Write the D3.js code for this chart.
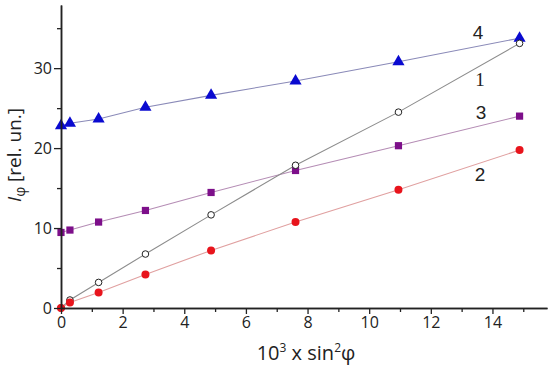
<!DOCTYPE html>
<html>
<head>
<meta charset="utf-8">
<script src="https://cdn.jsdelivr.net/npm/d3@7"></script>
<style>
  body { margin: 0; background: #fff; }
  text { font-family: "Open Sans", "DejaVu Sans", sans-serif; }
</style>
</head>
<body>
<div id="graph"></div>
<script>
// x values (10^3 x sin^2 phi), shared by all curves
const xVals = [0, 0.29, 1.22, 2.74, 4.87, 7.61, 10.95, 14.88];

// curves, numbered as in the figure
const curve1 = [0, 1.0, 3.2, 6.75, 11.65, 17.85, 24.5, 33.1];   // open circles
const curve2 = [0, 0.7, 1.95, 4.2, 7.2, 10.75, 14.8, 19.75];     // red dots
const curve3 = [9.45, 9.75, 10.75, 12.2, 14.45, 17.2, 20.3, 24.0]; // purple squares
const curve4 = [22.8, 23.1, 23.65, 25.1, 26.6, 28.4, 30.8, 33.75]; // blue triangles

const xTicks = [0, 2, 4, 6, 8, 10, 12, 14];
const yTicks = [0, 10, 20, 30];

const width = 550, height = 370;
const margin = {top: 5, right: 3, bottom: 62, left: 61};

const svg = d3.select("#graph").append("svg")
  .attr("width", width).attr("height", height);

const x = d3.scaleLinear().domain([0, 15.77]).range([margin.left, width - margin.right]);
const y = d3.scaleLinear().domain([0, 37.9]).range([height - margin.bottom, margin.top]);

// connecting lines first, markers on top
const series = [
  {name: "4", vals: curve4, line: "#8a8ab8", shape: "tri"},
  {name: "3", vals: curve3, line: "#b58db5", shape: "sq"},
  {name: "1", vals: curve1, line: "#8c8c8c", shape: "open"},
  {name: "2", vals: curve2, line: "#e0a0a0", shape: "dot"}
];

const line = d3.line().x(d => x(d[0])).y(d => y(d[1]));

series.forEach(s => {
  const pts = xVals.map((xv, i) => [xv, s.vals[i]]);
  svg.append("path")
    .attr("d", line(pts))
    .attr("fill", "none")
    .attr("stroke", s.line)
    .attr("stroke-width", 1.1);
});

series.forEach(s => {
  const pts = xVals.map((xv, i) => [xv, s.vals[i]]);
  const g = svg.append("g");
  if (s.shape === "tri") {
    g.selectAll("path").data(pts).join("path")
      .attr("d", d3.symbol(d3.symbolTriangle, 64))
      .attr("transform", d => `translate(${x(d[0])},${y(d[1])})`)
      .attr("fill", "#0a0ad0");
  } else if (s.shape === "sq") {
    g.selectAll("rect").data(pts).join("rect")
      .attr("x", d => x(d[0]) - 3.6).attr("y", d => y(d[1]) - 3.6)
      .attr("width", 7.2).attr("height", 7.2)
      .attr("fill", "#7d0f8a");
  } else if (s.shape === "open") {
    g.selectAll("circle").data(pts).join("circle")
      .attr("cx", d => x(d[0])).attr("cy", d => y(d[1])).attr("r", 3.3)
      .attr("fill", "#fff").attr("stroke", "#222").attr("stroke-width", 1);
  } else {
    g.selectAll("circle").data(pts).join("circle")
      .attr("cx", d => x(d[0])).attr("cy", d => y(d[1])).attr("r", 4)
      .attr("fill", "#e8141c");
  }
});

// axes
svg.append("g")
  .attr("transform", `translate(0,${y(0)})`)
  .call(d3.axisBottom(x).tickValues(xTicks).tickSize(6).tickSizeOuter(0).tickPadding(3));
svg.append("g")
  .attr("transform", `translate(0,${y(0)})`)
  .call(d3.axisBottom(x).tickValues(d3.range(1, 16, 2)).tickSize(4).tickFormat("").tickSizeOuter(0));

svg.append("g")
  .attr("transform", `translate(${x(0)},0)`)
  .call(d3.axisLeft(y).tickValues(yTicks).tickSize(7).tickSizeOuter(0).tickPadding(2));
svg.append("g")
  .attr("transform", `translate(${x(0)},0)`)
  .call(d3.axisLeft(y).tickValues([5, 15, 25, 35]).tickSize(4).tickFormat("").tickSizeOuter(0));

svg.selectAll(".domain").attr("stroke", "#222").attr("stroke-width", 1.5);
svg.selectAll(".tick line").attr("stroke", "#222").attr("stroke-width", 1.3);
svg.selectAll(".tick text").attr("fill", "#222").style("font-size", "16px");

// curve numbers
const labels = [
  {t: "4", x: 478, y: 39, serif: false},
  {t: "1", x: 480, y: 86, serif: true},
  {t: "3", x: 481, y: 119, serif: false},
  {t: "2", x: 480, y: 181, serif: false}
];
svg.selectAll("text.num").data(labels).join("text")
  .attr("class", "num")
  .attr("x", d => d.x).attr("y", d => d.y)
  .attr("text-anchor", "middle")
  .style("font-family", d => d.serif ? "'Liberation Serif', serif" : "'Liberation Sans', Arial, sans-serif")
  .style("font-size", "19px")
  .attr("fill", "#222")
  .text(d => d.t);

// axis titles
const xt = svg.append("text")
  .attr("x", 306).attr("y", 360)
  .attr("text-anchor", "middle")
  .attr("fill", "#222")
  .style("font-size", "20px");
xt.append("tspan").text("10");
xt.append("tspan").attr("dy", -8).style("font-size", "12px").text("3");
xt.append("tspan").attr("dy", 8).text(" x sin");
xt.append("tspan").attr("dy", -8).style("font-size", "12px").text("2");
xt.append("tspan").attr("dy", 8).text("φ");

const yt = svg.append("text")
  .attr("transform", "translate(21,155) rotate(-90)")
  .attr("text-anchor", "middle")
  .attr("fill", "#222")
  .style("font-size", "19px");
yt.append("tspan").style("font-style", "italic").text("I");
yt.append("tspan").attr("dy", 4).style("font-size", "14px").text("φ");
yt.append("tspan").attr("dy", -4).text(" [rel. un.]");
</script>
</body>
</html>
